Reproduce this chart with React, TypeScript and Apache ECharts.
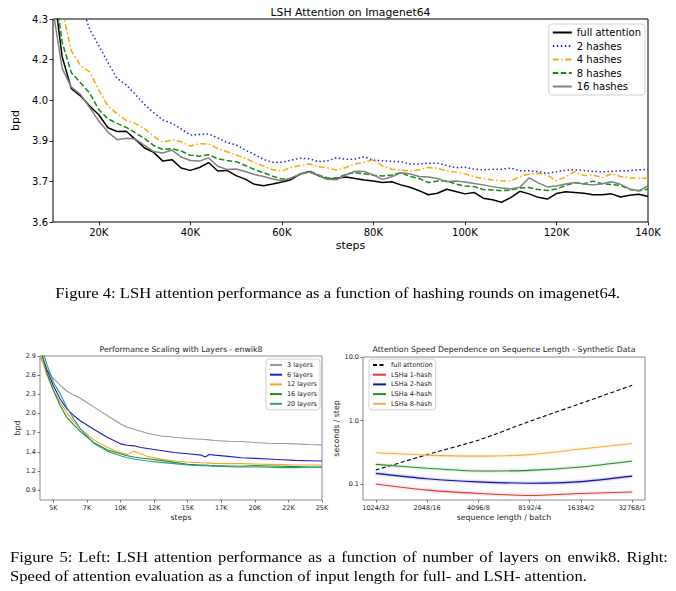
import React, { useEffect, useRef } from 'react';
import * as echarts from 'echarts';

const FONT = 'DejaVu Sans';

// ---------- Figure 4: LSH Attention on Imagenet64 ----------
const imgStepsK = [10, 12, 14, 16, 18, 20, 22, 24, 26, 28, 30, 32, 34, 36, 38, 40, 42, 44, 46, 48, 50, 52, 54, 56, 58, 60, 62, 64, 66, 68, 70, 72, 74, 76, 78, 80, 82, 84, 86, 88, 90, 92, 94, 96, 98, 100, 102, 104, 106, 108, 110, 112, 114, 116, 118, 120, 122, 124, 126, 128, 130, 132, 134, 136, 138, 140];
const imgFull = [4.42, 4.17, 4.06, 4.035, 4.0, 3.97, 3.925, 3.912, 3.913, 3.885, 3.855, 3.84, 3.81, 3.815, 3.786, 3.778, 3.788, 3.805, 3.776, 3.778, 3.76, 3.748, 3.73, 3.725, 3.731, 3.738, 3.746, 3.766, 3.773, 3.76, 3.747, 3.751, 3.755, 3.75, 3.745, 3.741, 3.736, 3.739, 3.728, 3.72, 3.708, 3.694, 3.699, 3.713, 3.705, 3.697, 3.702, 3.682, 3.677, 3.668, 3.684, 3.706, 3.697, 3.685, 3.679, 3.698, 3.704, 3.702, 3.699, 3.694, 3.694, 3.697, 3.686, 3.692, 3.696, 3.688];
const img2h = [4.85, 4.66, 4.5, 4.36, 4.265, 4.208, 4.15, 4.095, 4.073, 4.04, 4.005, 3.977, 3.952, 3.94, 3.921, 3.9, 3.902, 3.904, 3.89, 3.874, 3.866, 3.848, 3.833, 3.816, 3.806, 3.806, 3.813, 3.82, 3.818, 3.808, 3.811, 3.822, 3.816, 3.817, 3.825, 3.813, 3.811, 3.809, 3.808, 3.8, 3.8, 3.803, 3.803, 3.795, 3.787, 3.789, 3.782, 3.78, 3.782, 3.782, 3.786, 3.777, 3.777, 3.773, 3.768, 3.773, 3.779, 3.78, 3.778, 3.774, 3.773, 3.775, 3.777, 3.777, 3.78, 3.782];
const img4h = [4.58, 4.33, 4.19, 4.14, 4.118, 4.055, 4.0, 3.973, 3.95, 3.94, 3.921, 3.895, 3.875, 3.883, 3.877, 3.862, 3.87, 3.869, 3.853, 3.842, 3.831, 3.82, 3.805, 3.793, 3.78, 3.776, 3.788, 3.795, 3.8, 3.791, 3.786, 3.779, 3.788, 3.8, 3.806, 3.815, 3.793, 3.782, 3.779, 3.776, 3.78, 3.788, 3.785, 3.777, 3.772, 3.766, 3.756, 3.75, 3.745, 3.742, 3.741, 3.756, 3.765, 3.768, 3.762, 3.742, 3.755, 3.774, 3.76, 3.762, 3.753, 3.766, 3.757, 3.752, 3.751, 3.751];
const img8h = [4.45, 4.22, 4.115, 4.08, 4.045, 3.988, 3.956, 3.94, 3.926, 3.907, 3.888, 3.864, 3.85, 3.853, 3.845, 3.83, 3.827, 3.832, 3.818, 3.812, 3.808, 3.795, 3.781, 3.77, 3.758, 3.748, 3.75, 3.764, 3.776, 3.762, 3.752, 3.751, 3.765, 3.77, 3.766, 3.761, 3.759, 3.762, 3.77, 3.757, 3.75, 3.736, 3.741, 3.741, 3.731, 3.724, 3.722, 3.712, 3.71, 3.708, 3.71, 3.717, 3.719, 3.712, 3.709, 3.714, 3.726, 3.735, 3.732, 3.741, 3.732, 3.729, 3.726, 3.712, 3.708, 3.713];
const img16h = [4.33, 4.13, 4.065, 4.04, 3.995, 3.948, 3.91, 3.884, 3.889, 3.886, 3.864, 3.843, 3.838, 3.848, 3.824, 3.812, 3.81, 3.821, 3.792, 3.781, 3.783, 3.774, 3.764, 3.757, 3.748, 3.742, 3.752, 3.765, 3.772, 3.762, 3.747, 3.746, 3.762, 3.775, 3.774, 3.762, 3.747, 3.756, 3.77, 3.766, 3.757, 3.755, 3.75, 3.739, 3.741, 3.738, 3.733, 3.728, 3.722, 3.717, 3.714, 3.72, 3.752, 3.735, 3.721, 3.724, 3.731, 3.736, 3.731, 3.728, 3.732, 3.739, 3.73, 3.714, 3.708, 3.724];
const imgXTicks = [20000, 40000, 60000, 80000, 100000, 120000, 140000];
const imgXLabels = ['20K', '40K', '60K', '80K', '100K', '120K', '140K'];
const imgYTicks = [4.3, 4.16, 4.02, 3.88, 3.74, 3.6];
const imgYLabels = ['4.3', '4.2', '4.0', '3.9', '3.7', '3.6'];

// ---------- Figure 5 left: Performance Scaling with Layers - enwik8 ----------
const enwSteps = [4000, 4500, 5000, 5500, 6000, 6500, 7000, 8000, 9000, 10000, 10500, 11000, 11500, 12000, 13000, 14000, 15000, 16000, 16300, 16600, 17000, 18000, 19000, 20000, 21000, 22000, 23000, 24000, 25000];
const enw3 = [2.88, 2.7, 2.56, 2.46, 2.37, 2.31, 2.26, 2.13, 2.0, 1.87, 1.82, 1.79, 1.76, 1.73, 1.69, 1.67, 1.65, 1.64, 1.635, 1.63, 1.62, 1.61, 1.605, 1.59, 1.58, 1.575, 1.57, 1.56, 1.555];
const enw6 = [3.0, 2.7, 2.45, 2.25, 2.1, 2.0, 1.92, 1.79, 1.67, 1.57, 1.55, 1.54, 1.515, 1.5, 1.47, 1.44, 1.42, 1.4, 1.37, 1.41, 1.4, 1.38, 1.36, 1.35, 1.34, 1.33, 1.32, 1.315, 1.31];
const enw12 = [2.95, 2.62, 2.38, 2.2, 2.04, 1.91, 1.8, 1.63, 1.52, 1.44, 1.41, 1.46, 1.42, 1.38, 1.34, 1.31, 1.295, 1.285, 1.28, 1.278, 1.275, 1.27, 1.27, 1.265, 1.26, 1.255, 1.25, 1.25, 1.25];
const enw16 = [3.05, 2.65, 2.38, 2.15, 1.97, 1.86, 1.76, 1.59, 1.48, 1.42, 1.39, 1.37, 1.355, 1.345, 1.32, 1.29, 1.26, 1.25, 1.25, 1.245, 1.24, 1.235, 1.23, 1.24, 1.235, 1.23, 1.225, 1.22, 1.22];
const enw20 = [3.1, 2.78, 2.5, 2.33, 2.12, 1.95, 1.8, 1.58, 1.46, 1.39, 1.36, 1.34, 1.325, 1.31, 1.29, 1.27, 1.25, 1.24, 1.24, 1.235, 1.23, 1.225, 1.22, 1.22, 1.215, 1.21, 1.21, 1.215, 1.215];
const enwXTicks = [5000, 7500, 10000, 12500, 15000, 17500, 20000, 22500, 25000];
const enwXLabels = ['5K', '7K', '10K', '12K', '15K', '17K', '20K', '22K', '25K'];
const enwYTicks = [2.9, 2.61, 2.32, 2.03, 1.74, 1.45, 1.16, 0.87];
const enwYLabels = ['2.9', '2.6', '2.3', '2.0', '1.7', '1.4', '1.2', '0.9'];

// ---------- Figure 5 right: Attention Speed Dependence ----------
const seqLabels = ['1024/32', '2048/16', '4096/8', '8192/4', '16384/2', '32768/1'];
const speedFull = [0.166, 0.29, 0.49, 0.97, 1.86, 3.58];
const speed1 = [0.1, 0.08, 0.071, 0.066, 0.071, 0.075];
const speed2 = [0.147, 0.121, 0.108, 0.103, 0.109, 0.133];
const speed4 = [0.204, 0.177, 0.16, 0.164, 0.185, 0.23];
const speed8 = [0.31, 0.285, 0.275, 0.29, 0.355, 0.435];
const speedYTicks = [0.1, 1, 10];
const speedYLabels = ['0.1', '1.0', '10.0'];

const pick = (ticks: number[], labels: string[]) => (v: number) => {
  const i = ticks.findIndex((t) => Math.abs(t - v) < 1e-9 * Math.max(1, Math.abs(t)));
  return i >= 0 ? labels[i] : '';
};

const FULL_SPEED = 'full attention ';

function buildOption() {
  const zip = (xs: number[], ys: number[]) => xs.map((x, i) => [x, ys[i]]);
  const imgX = imgStepsK.map((k) => k * 1000);

  const topSeries = [
    { name: 'full attention', data: imgFull, color: '#000000', type: 'solid' as any },
    { name: '2 hashes', data: img2h, color: '#2424d6', type: [1.5, 2.5] },
    { name: '4 hashes', data: img4h, color: '#ffa500', type: [6, 2.5, 1.5, 2.5] },
    { name: '8 hashes', data: img8h, color: '#148a14', type: [5.5, 2.5] },
    { name: '16 hashes', data: img16h, color: '#808080', type: 'solid' as any },
  ];
  const enwSeries = [
    { name: '3 layers', data: enw3, color: '#999999' },
    { name: '6 layers', data: enw6, color: '#1c1cc8' },
    { name: '12 layers', data: enw12, color: '#f5a623' },
    { name: '16 layers', data: enw16, color: '#1f8a2a' },
    { name: '20 layers', data: enw20, color: '#2a9d92' },
  ];
  const speedSeries = [
    { name: FULL_SPEED, data: speedFull, color: '#000000', type: [4, 2.5] as any, glow: false },
    { name: 'LSHa 1-hash', data: speed1, color: '#e23a3a', type: 'solid' as any, glow: true },
    { name: 'LSHa 2-hash', data: speed2, color: '#1414a0', type: 'solid' as any, glow: true },
    { name: 'LSHa 4-hash', data: speed4, color: '#2e8b2e', type: 'solid' as any, glow: true },
    { name: 'LSHa 8-hash', data: speed8, color: '#f4b041', type: 'solid' as any, glow: true },
  ];
  const seqX = seqLabels.map((_, i) => i);

  const tickStyle = (color: string) => ({ show: true, length: 3.5, lineStyle: { color, width: 0.8 } });
  const noLine = { show: false, onZero: false };

  const series: any[] = [];
  topSeries.forEach((s) =>
    series.push({
      type: 'line', name: s.name, xAxisIndex: 0, yAxisIndex: 0, data: zip(imgX, s.data),
      symbol: 'none', clip: true, lineStyle: { color: s.color, width: 1.5, type: s.type }, itemStyle: { color: s.color },
    })
  );
  enwSeries.forEach((s) =>
    series.push({
      type: 'line', name: s.name, xAxisIndex: 1, yAxisIndex: 1, data: zip(enwSteps, s.data),
      symbol: 'none', clip: true, lineStyle: { color: s.color, width: 1.1 }, itemStyle: { color: s.color },
    })
  );
  speedSeries.forEach((s) =>
    series.push({
      type: 'line', name: s.name, xAxisIndex: 2, yAxisIndex: 2, data: zip(seqX, s.data),
      symbol: 'none', clip: true, smooth: 0.25,
      lineStyle: {
        color: s.color, width: 1.1, type: s.type,
        ...(s.glow ? { shadowBlur: 2, shadowColor: s.color + '88' } : {}),
      },
      itemStyle: { color: s.color },
    })
  );

  const legendBase = {
    orient: 'vertical', align: 'left', selectedMode: false, borderColor: '#d0d0d0', borderWidth: 1,
    borderRadius: 3, backgroundColor: 'rgba(255,255,255,0.85)', itemStyle: { opacity: 0 },
  };

  return {
    animation: false,
    backgroundColor: '#ffffff',
    grid: [
      { left: 53, top: 19, width: 595, height: 203, show: true, borderColor: '#000', borderWidth: 1, backgroundColor: 'transparent' },
      { left: 40, top: 356, width: 282, height: 144, show: true, borderColor: '#8a8a8a', borderWidth: 1, backgroundColor: 'transparent' },
      { left: 363, top: 357, width: 282, height: 143, show: true, borderColor: '#8a8a8a', borderWidth: 1, backgroundColor: 'transparent' },
    ],
    xAxis: [
      {
        type: 'value', gridIndex: 0, min: 10000, max: 140000, position: 'bottom',
        axisLine: noLine, splitLine: { show: false },
        axisTick: { ...tickStyle('#000'), customValues: imgXTicks },
        axisLabel: { customValues: imgXTicks, formatter: pick(imgXTicks, imgXLabels), fontSize: 10, color: '#000', fontFamily: FONT, margin: 5 },
        name: 'steps', nameLocation: 'middle', nameGap: 18, nameTextStyle: { fontSize: 11, fontFamily: FONT, color: '#000' },
      },
      {
        type: 'value', gridIndex: 1, min: 4000, max: 25000, position: 'bottom',
        axisLine: noLine, splitLine: { show: false },
        axisTick: { ...tickStyle('#555'), length: 2.5, customValues: enwXTicks },
        axisLabel: { customValues: enwXTicks, formatter: pick(enwXTicks, enwXLabels), fontSize: 6.5, color: '#222', fontFamily: FONT, margin: 4 },
        name: 'steps', nameLocation: 'middle', nameGap: 13, nameTextStyle: { fontSize: 7.8, fontFamily: FONT, color: '#222' },
      },
      {
        type: 'value', gridIndex: 2, min: -0.25, max: 5.25, position: 'bottom',
        axisLine: noLine, splitLine: { show: false },
        axisTick: { ...tickStyle('#555'), length: 2.5, customValues: seqX },
        axisLabel: { customValues: seqX, formatter: pick(seqX, seqLabels), fontSize: 6.5, color: '#222', fontFamily: FONT, margin: 4 },
        name: 'sequence length / batch', nameLocation: 'middle', nameGap: 13, nameTextStyle: { fontSize: 7.8, fontFamily: FONT, color: '#222' },
      },
    ],
    yAxis: [
      {
        type: 'value', gridIndex: 0, min: 3.6, max: 4.3, position: 'left',
        axisLine: noLine, splitLine: { show: false },
        axisTick: { ...tickStyle('#000'), customValues: imgYTicks },
        axisLabel: { customValues: imgYTicks, formatter: pick(imgYTicks, imgYLabels), fontSize: 10, color: '#000', fontFamily: FONT, margin: 5 },
        name: 'bpd', nameLocation: 'middle', nameGap: 21, nameTextStyle: { fontSize: 11, fontFamily: FONT, color: '#000' },
      },
      {
        type: 'value', gridIndex: 1, min: 0.72, max: 2.9, position: 'left',
        axisLine: noLine, splitLine: { show: false },
        axisTick: { ...tickStyle('#555'), length: 2.5, customValues: enwYTicks },
        axisLabel: { customValues: enwYTicks, formatter: pick(enwYTicks, enwYLabels), fontSize: 6.5, color: '#222', fontFamily: FONT, margin: 4 },
        name: 'bpd', nameLocation: 'middle', nameGap: 16, nameTextStyle: { fontSize: 7.8, fontFamily: FONT, color: '#222' },
      },
      {
        type: 'log', logBase: 10, gridIndex: 2, min: 0.056, max: 10, position: 'left',
        axisLine: noLine, splitLine: { show: false }, minorTick: { show: false },
        axisTick: { ...tickStyle('#555'), length: 2.5, customValues: speedYTicks },
        axisLabel: { customValues: speedYTicks, formatter: pick(speedYTicks, speedYLabels), fontSize: 6.5, color: '#222', fontFamily: FONT, margin: 4 },
        name: 'seconds / step', nameLocation: 'middle', nameGap: 17, nameTextStyle: { fontSize: 7.8, fontFamily: FONT, color: '#222' },
      },
    ],
    legend: [
      {
        ...legendBase, data: topSeries.map((s) => s.name), right: 31, top: 24,
        itemWidth: 19, itemHeight: 8, itemGap: 2.5, padding: [3, 4, 3, 3],
        textStyle: { fontSize: 10, lineHeight: 11, fontFamily: FONT, color: '#000' },
      },
      {
        ...legendBase, data: enwSeries.map((s) => s.name), right: 356, top: 359,
        itemWidth: 12, itemHeight: 6, itemGap: 1.7, padding: [2, 3, 2, 3],
        textStyle: { fontSize: 6.5, lineHeight: 8, fontFamily: FONT, color: '#222' },
      },
      {
        ...legendBase, data: speedSeries.map((s) => s.name), left: 369, top: 359,
        itemWidth: 13, itemHeight: 6, itemGap: 1.7, padding: [2, 3, 2, 3],
        formatter: (n: string) => n.trim(),
        textStyle: { fontSize: 6.5, lineHeight: 8, fontFamily: FONT, color: '#222' },
      },
    ],
    graphic: [
      { type: 'text', x: 350.5, y: 12, style: { text: 'LSH Attention on Imagenet64', align: 'center', verticalAlign: 'middle', fontSize: 10.8, fontFamily: FONT, fill: '#000' } },
      { type: 'text', x: 181, y: 349.5, style: { text: 'Performance Scaling with Layers - enwik8', align: 'center', verticalAlign: 'middle', fontSize: 7.8, fontFamily: FONT, fill: '#222' } },
      { type: 'text', x: 504, y: 349.5, style: { text: 'Attention Speed Dependence on Sequence Length - Synthetic Data', align: 'center', verticalAlign: 'middle', fontSize: 7.8, fontFamily: FONT, fill: '#222' } },
    ],
    series,
  };
}

const STRETCH = 1.186;
const capFont: React.CSSProperties = {
  position: 'absolute', fontFamily: '"Liberation Serif", "Times New Roman", serif', fontSize: 14, color: '#000',
  lineHeight: '19px', whiteSpace: 'nowrap',
};

export default function App() {
  const ref = useRef<HTMLDivElement>(null);
  useEffect(() => {
    if (!ref.current) return;
    const chart = echarts.init(ref.current, null, { renderer: 'svg' });
    chart.setOption(buildOption() as any);
    return () => chart.dispose();
  }, []);
  return (
    <div style={{ position: 'absolute', left: 0, top: 0, width: 676, height: 591, background: '#fff', overflow: 'hidden' }}>
      <div ref={ref} style={{ position: 'absolute', left: 0, top: 0, width: 676, height: 591 }} />
      <div style={{ ...capFont, left: 0, width: 676, top: 283.5, textAlign: 'center', transform: `scaleX(${STRETCH})`, transformOrigin: '339.5px 50%' }}>
        Figure 4: LSH attention performance as a function of hashing rounds on imagenet64.
      </div>
      <div style={{ ...capFont, left: 10, width: 658 / STRETCH, top: 547.5, textAlign: 'justify', textAlignLast: 'justify' as any, whiteSpace: 'normal', transform: `scaleX(${STRETCH})`, transformOrigin: '0 50%' }}>
        Figure 5: Left: LSH attention performance as a function of number of layers on enwik8. Right:
      </div>
      <div style={{ ...capFont, left: 10, top: 566.5, transform: `scaleX(${STRETCH})`, transformOrigin: '0 50%' }}>
        Speed of attention evaluation as a function of input length for full- and LSH- attention.
      </div>
    </div>
  );
}
